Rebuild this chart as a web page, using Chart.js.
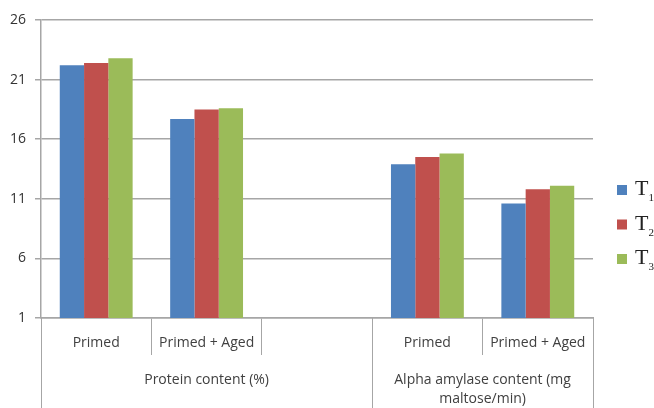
<!DOCTYPE html>
<html>
<head>
<meta charset="utf-8">
<script src="https://cdn.jsdelivr.net/npm/chart.js@4/dist/chart.umd.min.js"></script>
<style>
  html, body { margin: 0; padding: 0; background: #ffffff; }
  #wrap { width: 654px; height: 408px; position: relative; }
</style>
</head>
<body>
<div id="wrap"><canvas id="chart" width="654" height="408"></canvas></div>
<script>
// Categories along the x axis (an empty slot separates the two groups)
const categories = ['Primed', 'Primed + Aged', '', 'Primed', 'Primed + Aged'];

// Group captions under the categories, with the category index range each spans
const groupLabels = [['Protein content (%)'], ['Alpha amylase content (mg', 'maltose/min)']];
const groupStart = [0, 3];
const groupEnd = [2, 4];

// Treatment series
const seriesLabels = ['T₁', 'T₂', 'T₃'];
const t1Values = [22.2, 17.7, null, 13.9, 10.6];
const t2Values = [22.4, 18.5, null, 14.5, 11.8];
const t3Values = [22.8, 18.6, null, 14.8, 12.1];

// Y axis ticks
const yTicks = [1, 6, 11, 16, 21, 26];

const colors = ['#4f81bd', '#c0504d', '#9bbb59'];
const gridColor = '#a6a6a6';
const textColor = '#404040';

// Draws the category labels, group captions, group separators and the legend
const annotate = {
  id: 'annotate',
  afterDraw(chart) {
    const ctx = chart.ctx;
    const x = chart.scales.x;
    const area = chart.chartArea;
    const half = (x.getPixelForValue(1) - x.getPixelForValue(0)) / 2;

    ctx.save();
    ctx.fillStyle = textColor;
    ctx.textAlign = 'center';
    ctx.textBaseline = 'middle';
    ctx.font = '14px "Open Sans"';
    categories.forEach((c, i) => {
      if (c) ctx.fillText(c, x.getPixelForValue(i), area.bottom + 25);
    });

    // group separators run to the bottom edge
    ctx.strokeStyle = gridColor;
    ctx.lineWidth = 1;
    const edges = new Set();
    groupStart.forEach((s, g) => {
      edges.add(Math.round(x.getPixelForValue(s) - half));
      edges.add(Math.round(x.getPixelForValue(groupEnd[g]) + half));
    });
    edges.forEach(px => {
      ctx.beginPath();
      ctx.moveTo(px + 0.5, area.bottom);
      ctx.lineTo(px + 0.5, chart.height);
      ctx.stroke();
    });

    groupLabels.forEach((lines, g) => {
      const cx = (x.getPixelForValue(groupStart[g]) - half + x.getPixelForValue(groupEnd[g]) + half) / 2;
      lines.forEach((t, k) => ctx.fillText(t, cx, area.bottom + 62 + k * 19));
    });

    // legend
    chart.data.datasets.forEach((ds, i) => {
      const cy = 190 + i * 34.5;
      ctx.fillStyle = ds.backgroundColor;
      ctx.fillRect(617, cy - 5, 10, 10);
      ctx.fillStyle = '#222222';
      ctx.textAlign = 'left';
      ctx.textBaseline = 'alphabetic';
      ctx.font = '22px "Liberation Serif"';
      const base = ds.label.charAt(0);
      ctx.fillText(base, 635, cy + 5);
      const w = ctx.measureText(base).width;
      const sub = String(ds.label.charCodeAt(1) - 0x2080);
      ctx.font = '11px "Liberation Serif"';
      ctx.fillText(sub, 635 + w, cy + 11);
    });
    ctx.restore();
  }
};

new Chart(document.getElementById('chart'), {
  type: 'bar',
  data: {
    labels: categories,
    datasets: [
      { label: seriesLabels[0], data: t1Values, backgroundColor: colors[0] },
      { label: seriesLabels[1], data: t2Values, backgroundColor: colors[1] },
      { label: seriesLabels[2], data: t3Values, backgroundColor: colors[2] }
    ]
  },
  options: {
    responsive: false,
    animation: false,
    devicePixelRatio: 1,
    layout: { padding: { top: 20, right: 61, left: 0, bottom: 0 } },
    datasets: { bar: { barPercentage: 1, categoryPercentage: 0.66, borderWidth: 0 } },
    plugins: { legend: { display: false }, tooltip: { enabled: false } },
    scales: {
      x: {
        ticks: { display: false },
        grid: { display: true, drawOnChartArea: false, drawTicks: true, tickLength: 37, color: gridColor, lineWidth: 1, offset: true },
        border: { display: true, color: gridColor, width: 1.5 },
        afterFit(s) { s.height = 90; }
      },
      y: {
        min: 1,
        max: 26,
        afterBuildTicks(s) { s.ticks = yTicks.map(v => ({ value: v })); },
        ticks: { color: '#333333', font: { family: 'Open Sans', size: 14 }, padding: 9 },
        grid: { color: gridColor, lineWidth: 1.5, tickLength: 6 },
        border: { display: true, color: gridColor, width: 1.5 },
        afterFit(s) { s.width = 41; }
      }
    }
  },
  plugins: [annotate]
});
</script>
</body>
</html>
